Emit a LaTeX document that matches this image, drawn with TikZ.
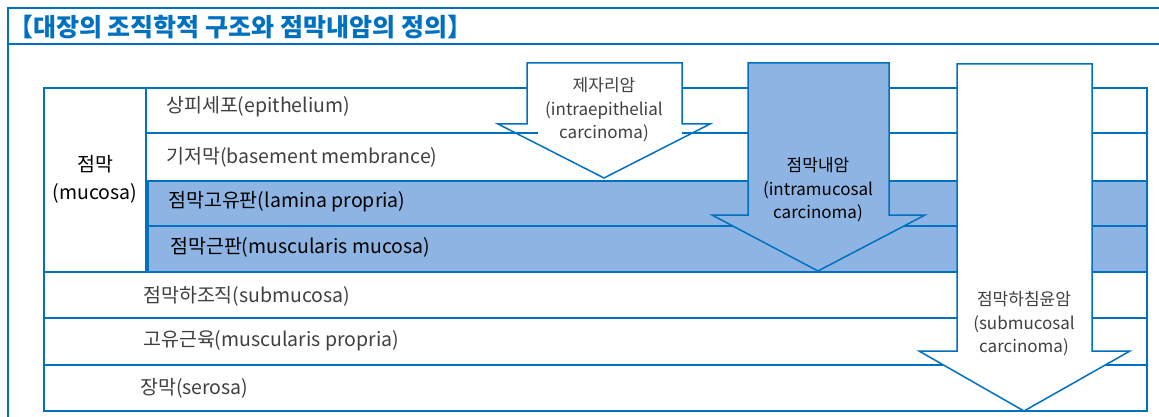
\documentclass[tikz,border=0pt]{standalone}
\usepackage{fontspec}
\setmainfont{Noto Sans CJK KR}
\definecolor{lb}{RGB}{0,112,192}
\definecolor{bandfill}{RGB}{141,180,226}
\definecolor{txt}{RGB}{64,64,64}
\tikzset{
  frameline/.style={draw=lb, line width=2pt},
  rowline/.style={draw=lb, line width=1.5pt},
  bandbox/.style={draw=lb, fill=bandfill, line width=2.6pt},
  arrowshape/.style={draw=lb, line width=1.5pt, line join=miter},
  rowtext/.style={anchor=west, inner sep=0pt, text=txt, font=\fontsize{19.5}{22}\selectfont},
  darktext/.style={anchor=west, inner sep=0pt, text=black, font=\fontsize{19.5}{22}\selectfont},
  arrowtext/.style={inner sep=0pt, align=center, text=txt, font=\fontsize{17}{23.5}\selectfont},
}
\begin{document}
\begin{tikzpicture}[x=1pt,y=-1pt]
\useasboundingbox (0,0) rectangle (1159,417);
\clip (0,0) rectangle (1159,417);
\fill[white] (0,0) rectangle (1159,417);
% outer frame
\draw[frameline] (8,440) -- (8,8) -- (1180,8);
\draw[frameline] (8,44) -- (1180,44);
\node[anchor=west, inner sep=0pt, text=lb, font=\fontsize{25}{27}\bfseries] (title) at (8,27) {【대장의 조직학적 구조와 점막내암의 정의】};
% table
\draw[rowline, fill=white] (44,88) rectangle (1147,411);
\draw[rowline] (146,88) -- (146,272);
\draw[rowline] (146,133) -- (1147,133);
\draw[rowline] (146,181) -- (1147,181);
\draw[rowline] (44,272) -- (1147,272);
\draw[rowline] (44,318) -- (1147,318);
\draw[rowline] (44,365) -- (1147,365);
\draw[bandbox] (148,181) rectangle (1147,226);
\draw[bandbox] (148,226) rectangle (1147,272);
% row labels
\node[rowtext] (epi) at (166,107) {상피세포(epithelium)};
\node[rowtext] (bm) at (166,157) {기저막(basement membrance)};
\node[darktext] (lp) at (168,202) {점막고유판(lamina propria)};
\node[darktext] (mm) at (170,247) {점막근판(muscularis mucosa)};
\node[rowtext] (sub) at (143,296) {점막하조직(submucosa)};
\node[rowtext] (mp) at (143,341) {고유근육(muscularis propria)};
\node[rowtext] (ser) at (140,388) {장막(serosa)};
\node[inner sep=0pt, align=center, text=black, font=\fontsize{19.5}{28}\selectfont] (muc) at (95,179) {점막\\(mucosa)};
% arrow 1: intraepithelial
\draw[arrowshape, fill=white] (527,63) -- (682,63) -- (682,124) -- (710,124) -- (604,178) -- (498,124) -- (527,124) -- cycle;
\draw[rowline] (500,133) -- (538,133);
\draw[rowline] (682,133) -- (708,133);
\node[arrowtext] (a1) at (604,110) {제자리암\\(intraepithelial\\carcinoma)};
% arrow 2: intramucosal
\draw[arrowshape, fill=bandfill] (748,63) -- (889,63) -- (889,215) -- (925,215) -- (818,271) -- (712,215) -- (748,215) -- cycle;
\node[arrowtext, text=black] (a2) at (818,190) {점막내암\\(intramucosal\\carcinoma)};
% arrow 3: submucosal
\draw[arrowshape, fill=white] (957,64) -- (1092,64) -- (1092,351) -- (1130,351) -- (1024,411) -- (919,351) -- (957,351) -- cycle;
\node[arrowtext] (a3) at (1024,324) {점막하침윤암\\(submucosal\\carcinoma)};
\end{tikzpicture}
\end{document}
